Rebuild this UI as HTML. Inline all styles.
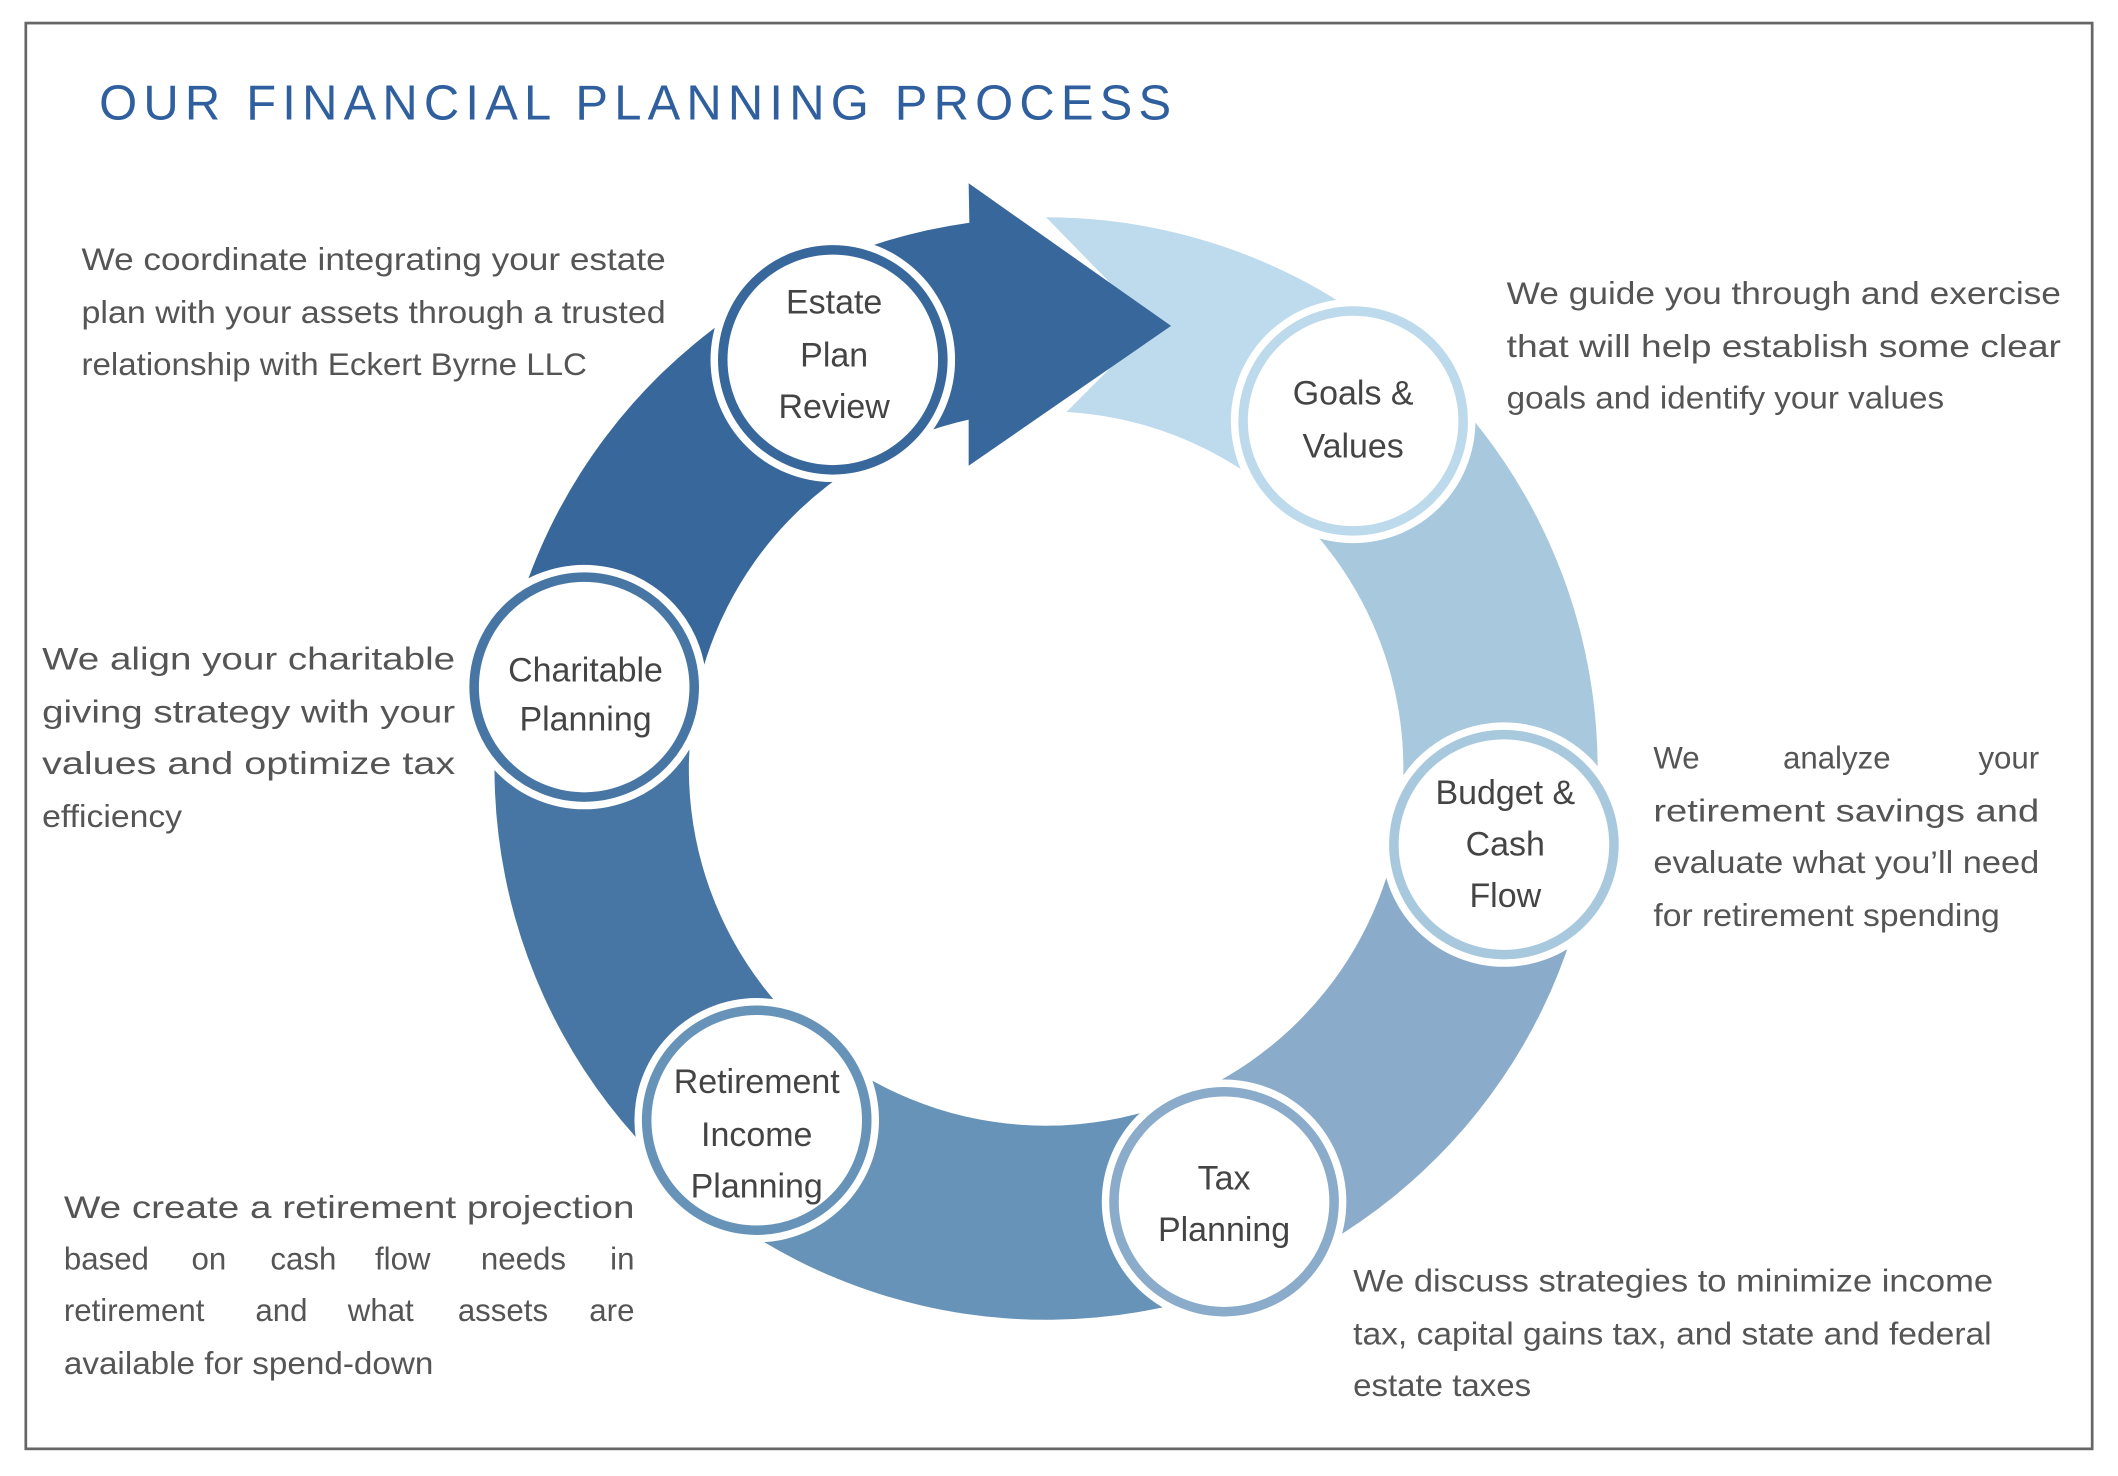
<!DOCTYPE html>
<html><head><meta charset="utf-8"><style>
html,body{margin:0;padding:0;background:#fff;}
svg{display:block;}
.p{font-family:"Liberation Sans",sans-serif;font-size:23px;fill:#555;}
.c{font-family:"Liberation Sans",sans-serif;font-size:25px;fill:#444;text-anchor:middle;}
</style></head><body>
<svg width="2118" height="1476" viewBox="0 0 1559 1087" preserveAspectRatio="none" xmlns="http://www.w3.org/2000/svg">
<rect x="0" y="0" width="1559" height="1087" fill="#fff"/>
<rect x="19" y="17" width="1521" height="1050" fill="none" stroke="#666" stroke-width="2"/>
<text x="73" y="88" font-family="Liberation Sans,sans-serif" font-size="36" fill="#2f5f9e" textLength="789" lengthAdjust="spacing">OUR FINANCIAL PLANNING PROCESS</text>

<path d="M770,160 A406,406 0 0 1 1081,305 L971.5,397 A263,263 0 0 0 785,303.4 L848,240 Z" fill="#bedbed"/>
<path d="M1057,279 A406,406 0 0 1 1162.2,671.1 L1024,634 A263,263 0 0 0 956,380 Z" fill="#a8c8de"/>
<path d="M1174.5,601.4 A406,406 0 0 1 895.5,952.1 L851.3,816.1 A263,263 0 0 0 1032,589 Z" fill="#8aacca"/>
<path d="M960.6,924.5 A406,406 0 0 1 483,853 L584,752 A263,263 0 0 0 893.5,798.2 Z" fill="#6793b8"/>
<path d="M537.1,898.6 A406,406 0 0 1 377.8,461 L516,498 A263,263 0 0 0 619.1,781.4 Z" fill="#4876a4"/>
<path d="M370.2,495.5 A406,406 0 0 1 713.5,164 L713,135 L862,240 L713,343 L713,309 A263,263 0 0 0 511,520.3 Z" fill="#38679b"/>

<g stroke-width="7" fill="#fff">
<circle cx="613" cy="265" r="90" stroke="none"/><circle cx="613" cy="265" r="81" stroke="#38679b"/>
<circle cx="996" cy="310" r="90" stroke="none"/><circle cx="996" cy="310" r="81" stroke="#bcdaec"/>
<circle cx="1107" cy="622" r="90" stroke="none"/><circle cx="1107" cy="622" r="81" stroke="#a8c8de"/>
<circle cx="901" cy="885" r="90" stroke="none"/><circle cx="901" cy="885" r="81" stroke="#8aacca"/>
<circle cx="557" cy="825" r="90" stroke="none"/><circle cx="557" cy="825" r="81" stroke="#6793b8"/>
<circle cx="430" cy="506" r="90" stroke="none"/><circle cx="430" cy="506" r="81" stroke="#4876a4"/>
</g>
<text class="c" x="614" y="231">Estate</text><text class="c" x="614" y="270">Plan</text><text class="c" x="614" y="308">Review</text>
<text class="c" x="996" y="298">Goals &amp;</text><text class="c" x="996" y="337">Values</text>
<text class="c" x="1108" y="592">Budget &amp;</text><text class="c" x="1108" y="630">Cash</text><text class="c" x="1108" y="668">Flow</text>
<text class="c" x="901" y="876">Tax</text><text class="c" x="901" y="914">Planning</text>
<text class="c" x="557" y="805">Retirement</text><text class="c" x="557" y="844">Income</text><text class="c" x="557" y="882">Planning</text>
<text class="c" x="431" y="502">Charitable</text><text class="c" x="431" y="538">Planning</text>

<g class="p">
<text x="60" y="199" textLength="430" lengthAdjust="spacingAndGlyphs">We coordinate integrating your  estate</text>
<text x="60" y="238" textLength="430" lengthAdjust="spacingAndGlyphs">plan with your assets through a trusted</text>
<text x="60" y="276" textLength="372" lengthAdjust="spacingAndGlyphs">relationship with Eckert Byrne LLC</text>

<text x="1109" y="224" textLength="408" lengthAdjust="spacingAndGlyphs">We guide you through and exercise</text>
<text x="1109" y="263" textLength="408" lengthAdjust="spacingAndGlyphs">that will help establish some clear</text>
<text x="1109" y="301" textLength="322" lengthAdjust="spacingAndGlyphs">goals and identify your values</text>

<text x="31" y="493" textLength="304" lengthAdjust="spacingAndGlyphs">We align your charitable</text>
<text x="31" y="532" textLength="304" lengthAdjust="spacingAndGlyphs">giving strategy with your</text>
<text x="31" y="570" textLength="304" lengthAdjust="spacingAndGlyphs">values and optimize tax</text>
<text x="31" y="609" textLength="103" lengthAdjust="spacingAndGlyphs">efficiency</text>

<text x="1217" y="566">We</text><text x="1352" y="566" text-anchor="middle">analyze</text><text x="1501" y="566" text-anchor="end">your</text>
<text x="1217" y="605" textLength="284" lengthAdjust="spacingAndGlyphs">retirement savings and</text>
<text x="1217" y="643" textLength="284" lengthAdjust="spacingAndGlyphs">evaluate what you’ll need</text>
<text x="1217" y="682" textLength="255" lengthAdjust="spacingAndGlyphs">for retirement spending</text>

<text x="47" y="897" textLength="420" lengthAdjust="spacingAndGlyphs">We create a retirement projection</text>
<text x="47" y="935">based</text><text x="141" y="935">on</text><text x="199" y="935">cash</text><text x="276" y="935">flow</text><text x="354" y="935">needs</text><text x="467" y="935" text-anchor="end">in</text>
<text x="47" y="973">retirement</text><text x="188" y="973">and</text><text x="256" y="973">what</text><text x="337" y="973">assets</text><text x="467" y="973" text-anchor="end">are</text>
<text x="47" y="1012" textLength="272" lengthAdjust="spacingAndGlyphs">available for spend-down</text>

<text x="996" y="951" textLength="471" lengthAdjust="spacingAndGlyphs">We discuss strategies to minimize income</text>
<text x="996" y="990" textLength="470" lengthAdjust="spacingAndGlyphs">tax, capital gains tax, and state and federal</text>
<text x="996" y="1028" textLength="131" lengthAdjust="spacingAndGlyphs">estate taxes</text>
</g>
</svg>
</body></html>
